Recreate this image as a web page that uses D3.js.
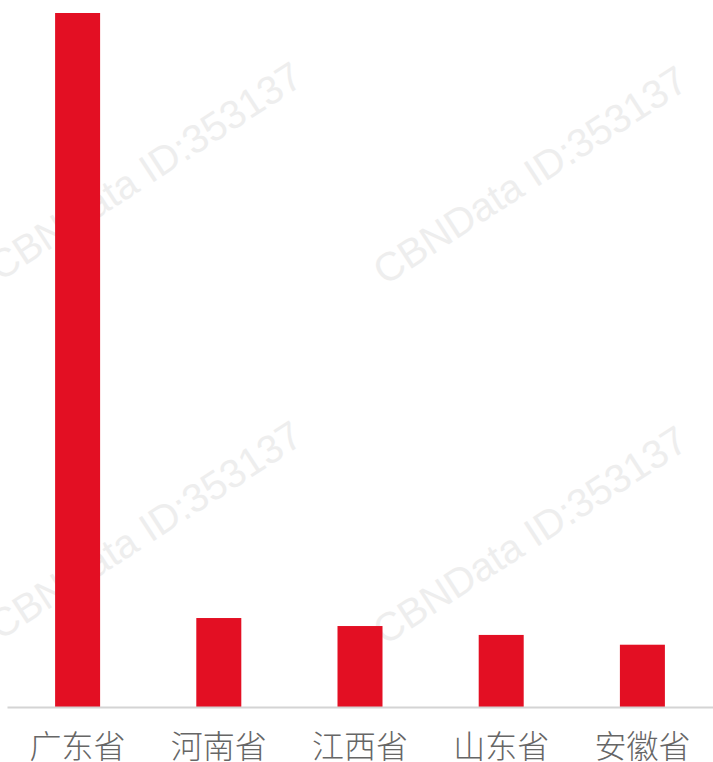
<!DOCTYPE html>
<html>
<head>
<meta charset="utf-8">
<script src="https://cdn.jsdelivr.net/npm/d3@7"></script>
<style>
  html, body { margin: 0; padding: 0; background: #fff; }
  svg { display: block; }
</style>
</head>
<body>
<div class="barchart"></div>
<script>
const provinces = [ "广东省", "河南省", "江西省", "山东省", "安徽省" ];
const shares    = [ 78, 10, 9.1, 8.1, 7 ];
const watermark = "CBNData ID:353137";

const width  = 713;
const height = 762;
const baseline = 707;

const svg = d3.select( ".barchart" )
  .append( "svg" )
    .attr( "width", width )
    .attr( "height", height );

// watermarks behind everything
const marks = [ [ 145, 171 ], [ 530, 175 ], [ 145, 530 ], [ 530, 535 ] ];
svg.append( "g" )
  .selectAll( "text" )
  .data( marks )
  .enter()
    .append( "text" )
    .attr( "transform", d => `translate( ${ d[0] }, ${ d[1] } ) rotate( -33 )` )
    .attr( "text-anchor", "middle" )
    .attr( "dy", ".35em" )
    .attr( "font-family", "Liberation Sans, Arial, sans-serif" )
    .attr( "font-size", 40 )
    .attr( "fill", "#eeeeee" )
    .text( watermark );

const xScale = d3.scaleBand()
  .domain( provinces )
  .range( [ 7, width ] );

const yScale = d3.scaleLinear()
  .domain( [ 0, 78 ] )
  .range( [ baseline, 13 ] );

const barWidth = 45;

svg.append( "g" )
  .selectAll( "rect" )
  .data( provinces )
  .enter()
    .append( "rect" )
    .attr( "x", d => xScale( d ) + ( xScale.bandwidth() - barWidth ) / 2 )
    .attr( "width", barWidth )
    .attr( "y", ( d, i ) => yScale( shares[i] ) )
    .attr( "height", ( d, i ) => baseline - yScale( shares[i] ) )
    .attr( "fill", "#e30f23" );

const xAxis = d3.axisBottom( xScale ).tickSize( 0 ).tickPadding( 28 );

const axis = svg.append( "g" )
  .attr( "transform", `translate( 0, ${ baseline } )` )
  .call( xAxis );

axis.select( ".domain" )
  .attr( "stroke", "#d4d4d4" )
  .attr( "stroke-width", 2 );

axis.selectAll( ".tick text" )
  .attr( "font-family", "Noto Sans CJK SC, sans-serif" )
  .attr( "font-weight", 300 )
  .attr( "font-size", 32 )
  .attr( "fill", "#666" );
</script>
</body>
</html>
